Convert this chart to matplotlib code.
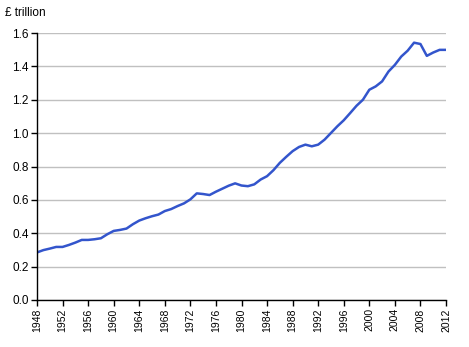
import matplotlib
matplotlib.use("Agg")
import matplotlib.pyplot as plt

plt.rcParams['font.family'] = ['Liberation Sans', 'DejaVu Sans']

years = list(range(1948, 2013))
valores = [
    0.285, 0.299, 0.308, 0.318, 0.318, 0.330, 0.344, 0.360, 0.360, 0.364,
    0.370, 0.394, 0.414, 0.420, 0.428, 0.454, 0.476, 0.490, 0.502, 0.512,
    0.533, 0.545, 0.563, 0.579, 0.603, 0.639, 0.635, 0.629, 0.649, 0.667,
    0.685, 0.699, 0.686, 0.682, 0.693, 0.722, 0.742, 0.778, 0.822, 0.858,
    0.892, 0.917, 0.931, 0.921, 0.931, 0.961, 1.001, 1.041, 1.077, 1.120,
    1.164, 1.200, 1.260, 1.280, 1.310, 1.369, 1.409, 1.459, 1.494, 1.542,
    1.534, 1.463, 1.483, 1.499, 1.499,
]
xticks = list(range(1948, 2013, 4))
yticks = [0.0, 0.2, 0.4, 0.6, 0.8, 1.0, 1.2, 1.4, 1.6]

fig = plt.figure(figsize=(4.69, 3.47), dpi=100)
ax = fig.add_axes([37 / 469, 47 / 347, 409 / 469, 267 / 347])

ax.plot(years, valores, color='#3355cc', linewidth=1.8)

ax.set_xlim(1948, 2012)
ax.set_ylim(0, 1.6)
ax.set_xticks(xticks)
ax.set_xticklabels([str(a) for a in xticks], rotation=90, fontsize=7.5)
ax.set_yticks(yticks)
ax.set_yticklabels(['%.1f' % v for v in yticks], fontsize=8.5)
ax.tick_params(direction='out', length=4, width=1, color='black', pad=2)

ax.grid(axis='y', color='#c0c0c0', linewidth=1)
ax.set_axisbelow(True)
for lado in ['top', 'right']:
    ax.spines[lado].set_visible(False)
for lado in ['left', 'bottom']:
    ax.spines[lado].set_color('black')
    ax.spines[lado].set_linewidth(1)

fig.text(5 / 469, 1 - 13 / 347, '£ trillion', fontsize=8.5, va='center', ha='left')

fig.savefig('out.png', dpi=100)
